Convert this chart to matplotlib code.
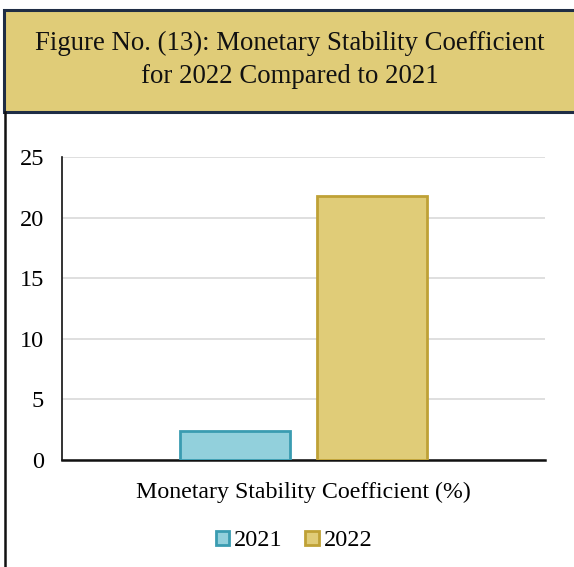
import matplotlib.pyplot as plt
from matplotlib.patches import Rectangle, Patch
from matplotlib.lines import Line2D

plt.rcParams['font.family'] = ['Liberation Serif', 'DejaVu Serif']

years = ['2021', '2022']
values = [2.4, 21.8]
category = 'Monetary Stability Coefficient (%)'
yticks = [0, 5, 10, 15, 20, 25]

fills = ['#92D0DC', '#E0CC78']
edges = ['#3A9CB1', '#BFA136']

W, H = 574, 567
fig = plt.figure(figsize=(W / 100, H / 100), dpi=100)

# title box
fig.patches.append(Rectangle((4 / W, 1 - 112 / H), 1.0, 102 / H, transform=fig.transFigure,
                             facecolor='#E0CC78', edgecolor='#1F2D45', linewidth=2.2))
fig.text(290 / W, 1 - 43 / H, 'Figure No. (13): Monetary Stability Coefficient',
         ha='center', va='center', fontsize=19.3, color='#111111')
fig.text(290 / W, 1 - 77 / H, 'for 2022 Compared to 2021',
         ha='center', va='center', fontsize=19.3, color='#111111')
# left frame line below title
fig.lines.append(Line2D([5 / W, 5 / W], [0, 1 - 112 / H], transform=fig.transFigure,
                        color='#111111', linewidth=1.8))

ax = fig.add_axes([62 / W, 1 - 460 / H, 483 / W, 303 / H])
offsets = [-0.142, 0.142]
for i, (yr, v) in enumerate(zip(years, values)):
    ax.bar(offsets[i], v, width=0.228, color=fills[i], edgecolor=edges[i], linewidth=2, zorder=3)

ax.set_xlim(-0.5, 0.5)
ax.set_ylim(0, 25)
ax.set_yticks(yticks)
ax.set_yticklabels([str(t) for t in yticks], fontsize=17.5)
ax.tick_params(axis='y', length=0, pad=13)
ax.set_xticks([])
ax.yaxis.grid(True, color='#D9D9D9', linewidth=1.2, zorder=0)
ax.set_axisbelow(True)
for s in ['top', 'right']:
    ax.spines[s].set_visible(False)
ax.spines['left'].set_color('#111111')
ax.spines['bottom'].set_color('#111111')
ax.spines['bottom'].set_linewidth(1.8)
ax.spines['left'].set_linewidth(1.2)

fig.text(303 / W, 1 - 492 / H, category, ha='center', va='center', fontsize=17.2)

handles = [Patch(facecolor=fills[i], edgecolor=edges[i], linewidth=2, label=years[i]) for i in range(2)]
fig.legend(handles=handles, loc='center', bbox_to_anchor=(294 / W, 1 - 541 / H), ncol=2,
           frameon=False, fontsize=17.5, handlelength=0.55, handleheight=0.55,
           handletextpad=0.2, columnspacing=0.95)

fig.savefig('out.png', dpi=100)
